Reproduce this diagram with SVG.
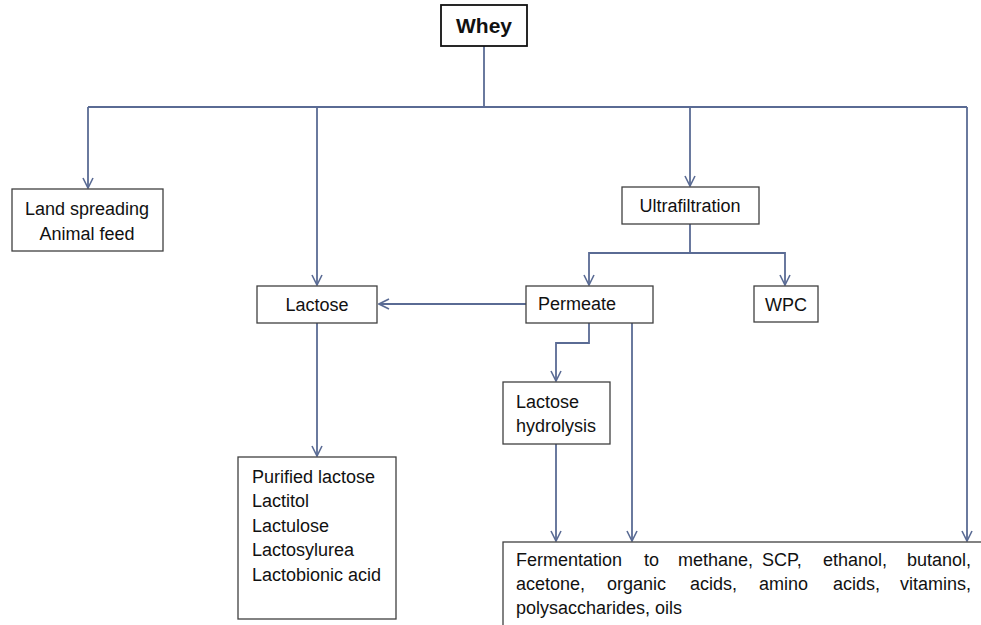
<svg xmlns="http://www.w3.org/2000/svg" width="981" height="625" viewBox="0 0 981 625">
<style>
.box{fill:#fff;stroke:#404040;stroke-width:1.3}
.t{font-family:"Liberation Sans",Arial,sans-serif;font-size:18px;fill:#111}
.c{fill:none;stroke:#5a6b94;stroke-width:1.8}
</style>
<defs>
<marker id="a" viewBox="0 0 12 12" refX="11" refY="6" markerWidth="12" markerHeight="12" markerUnits="userSpaceOnUse" orient="auto">
<path d="M1,1 L11,6 L1,11" fill="none" stroke="#5a6b94" stroke-width="1.6"/>
</marker>
</defs>
<rect width="981" height="625" fill="#fff"/>
<g id="connectors">
<path class="c" d="M484,46 V107"/>
<path class="c" d="M88,107 H967"/>
<path class="c" d="M88,107 V188" marker-end="url(#a)"/>
<path class="c" d="M317,107 V285" marker-end="url(#a)"/>
<path class="c" d="M690,107 V186" marker-end="url(#a)"/>
<path class="c" d="M967,107 V541" marker-end="url(#a)"/>
<path class="c" d="M690,224 V253 H589 V285" marker-end="url(#a)"/>
<path class="c" d="M690,253 H785 V285" marker-end="url(#a)"/>
<path class="c" d="M526,304 H379" marker-end="url(#a)"/>
<path class="c" d="M589,323 V343 H556 V381" marker-end="url(#a)"/>
<path class="c" d="M632,323 V541" marker-end="url(#a)"/>
<path class="c" d="M556,444 V541" marker-end="url(#a)"/>
<path class="c" d="M317,323 V456" marker-end="url(#a)"/>
</g>
<g id="whey">
<rect class="box" x="441" y="5" width="86" height="41" style="stroke:#111;stroke-width:1.8"/>
<text class="t" x="484" y="33" text-anchor="middle" style="font-weight:bold;font-size:21px">Whey</text>
</g>
<g id="land">
<rect class="box" x="12" y="189" width="151" height="62"/>
<text class="t" x="87" y="215" text-anchor="middle">Land spreading</text>
<text class="t" x="87" y="240" text-anchor="middle">Animal feed</text>
</g>
<g id="lactose">
<rect class="box" x="257" y="286" width="120" height="37"/>
<text class="t" x="317" y="311" text-anchor="middle">Lactose</text>
</g>
<g id="ultrafiltration">
<rect class="box" x="622" y="187" width="137" height="37"/>
<text class="t" x="690" y="212" text-anchor="middle">Ultrafiltration</text>
</g>
<g id="permeate">
<rect class="box" x="526" y="286" width="127" height="37"/>
<text class="t" x="538" y="310">Permeate</text>
</g>
<g id="wpc">
<rect class="box" x="754" y="286" width="64" height="36"/>
<text class="t" x="786" y="311" text-anchor="middle">WPC</text>
</g>
<g id="hydrolysis">
<rect class="box" x="503" y="382" width="107" height="62"/>
<text class="t" x="516" y="408">Lactose</text>
<text class="t" x="516" y="432">hydrolysis</text>
</g>
<g id="products">
<rect class="box" x="238" y="457" width="158" height="162"/>
<text class="t" x="252" y="483">Purified lactose</text>
<text class="t" x="252" y="507">Lactitol</text>
<text class="t" x="252" y="532">Lactulose</text>
<text class="t" x="252" y="556">Lactosylurea</text>
<text class="t" x="252" y="581">Lactobionic acid</text>
</g>
<g id="fermentation">
<rect class="box" x="503" y="542" width="490" height="100"/>
<text class="t" y="566"><tspan x="516">Fermentation</tspan><tspan x="644">to</tspan><tspan x="678">methane,</tspan><tspan x="762">SCP,</tspan><tspan x="823">ethanol,</tspan><tspan x="907">butanol,</tspan></text>
<text class="t" y="590"><tspan x="516">acetone,</tspan><tspan x="607">organic</tspan><tspan x="690">acids,</tspan><tspan x="759">amino</tspan><tspan x="833">acids,</tspan><tspan x="900">vitamins,</tspan></text>
<text class="t" x="516" y="614">polysaccharides, oils</text>
</g>
</svg>
